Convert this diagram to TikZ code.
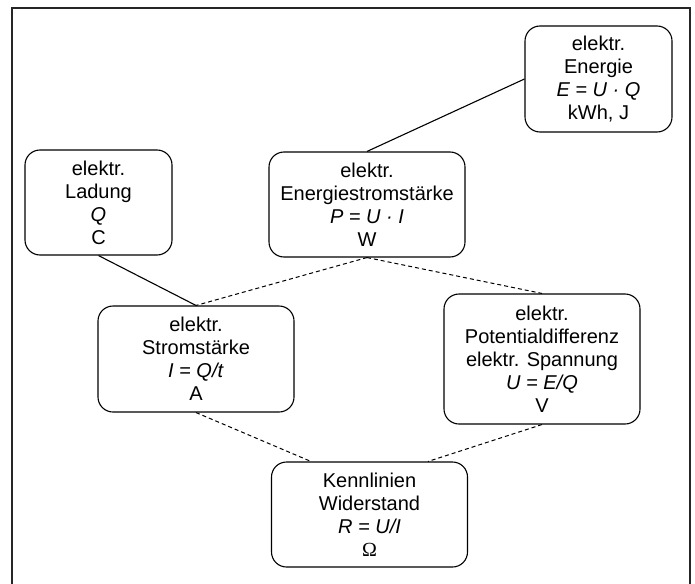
\documentclass[tikz,border=0pt]{standalone}
\usepackage{fontspec}
\setmainfont{Liberation Sans}
\newfontfamily\omegafont{Liberation Serif}
\begin{document}
\begin{tikzpicture}[x=1pt,y=-1pt,
  box/.style={draw, line width=1.1pt, rounded corners=15pt, align=center, inner sep=0pt,
    minimum width=196pt, minimum height=105pt, font=\fontsize{20}{23}\selectfont},
  link/.style={line width=1.1pt},
  dlink/.style={line width=1pt, dash pattern=on 4pt off 3pt}]
\useasboundingbox (0,0) rectangle (695,583);
\draw[line width=1.5pt, black!85] (12,590) -- (12,8) -- (690,8) -- (690,590);
\node[box, minimum width=147pt] (ladung) at (98.5,202.5) {elektr.\\Ladung\\\textit{Q}\\C};
\node[box] (pstrom) at (367,204.5) {elektr.\\Energiestromstärke\\\textit{P = U · I}\\W};
\node[box, minimum width=147pt, minimum height=106pt] (energie) at (598.5,79) {elektr.\\Energie\\\textit{E = U · Q}\\kWh, J};
\node[box, minimum height=106pt] (strom) at (196,359) {elektr.\\Stromstärke\\\textit{I = Q/t}\\A};
\node[box, minimum height=130pt] (spann) at (542,359) {elektr.\\Potentialdifferenz\\elektr. Spannung\\\textit{U = E/Q}\\V};
\node[box] (wid) at (369.5,514.5) {Kennlinien\\Widerstand\\\textit{R = U/I}\\{\omegafont Ω}};
\draw[link] (ladung.south) -- (strom.north);
\draw[link] (energie.west) -- (pstrom.north);
\draw[dlink] (pstrom.south) -- (strom.north);
\draw[dlink] (pstrom.south) -- (spann.north);
\draw[dlink] (strom.south) -- ([xshift=40pt]wid.north west);
\draw[dlink] (spann.south) -- ([xshift=-40pt]wid.north east);
\end{tikzpicture}
\end{document}
